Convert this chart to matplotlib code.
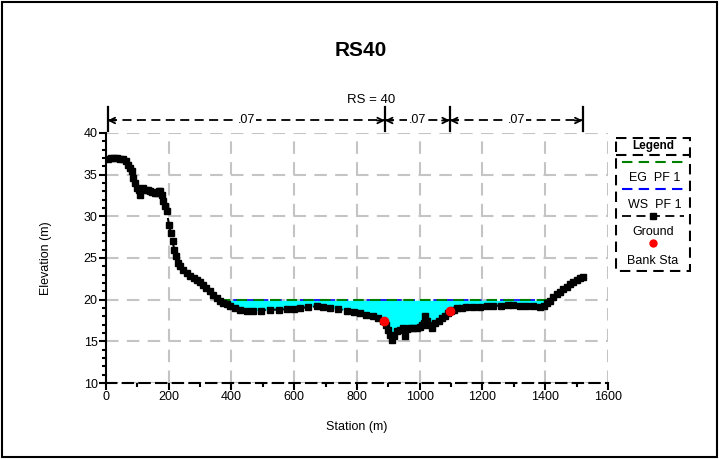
import matplotlib
matplotlib.use("Agg")
import matplotlib.pyplot as plt
import numpy as np
from matplotlib.patches import Rectangle
from matplotlib.ticker import MultipleLocator

plt.rcParams['font.family'] = ['Liberation Sans', 'DejaVu Sans']

# ---------------- data ----------------
station = [5, 15, 25, 35, 45, 55, 63, 71, 78, 82, 87, 93, 98, 104, 108, 114, 119, 126, 133, 140,
           148, 155, 162, 168, 172, 178, 183, 188, 193, 201, 207, 212, 218, 223, 230, 236, 245,
           257, 268, 280, 289, 300, 310, 320, 331, 342, 353, 363, 374, 385, 395, 410, 427, 448,
           469, 495, 523, 550, 576, 598, 618, 645, 671, 692, 714, 740, 767, 790, 809, 830, 852,
           868, 884, 893, 900, 905, 911, 918, 926, 936, 947, 953, 960, 969, 980, 990, 1000, 1006,
           1012, 1017, 1022, 1027, 1038, 1048, 1060, 1070, 1080, 1091, 1100, 1110, 1118, 1135,
           1149, 1170, 1192, 1215, 1234, 1260, 1280, 1298, 1320, 1340, 1360, 1383, 1395, 1404,
           1415, 1425, 1436, 1447, 1458, 1468, 1480, 1490, 1500, 1510, 1521]
elevation = [36.9, 37.0, 37.0, 37.0, 36.9, 36.9, 36.6, 36.2, 35.8, 35.4, 34.6, 34.0, 33.4, 33.2, 32.6,
             33.3, 33.4, 33.2, 33.1, 33.0, 32.9, 32.8, 32.8, 33.0, 33.0, 32.5, 31.8, 31.2, 30.6,
             29.0, 28.0, 27.0, 26.0, 25.2, 24.4, 24.0, 23.6, 23.2, 22.9, 22.6, 22.4, 22.1, 21.8,
             21.4, 21.0, 20.6, 20.2, 19.8, 19.6, 19.5, 19.2, 19.0, 18.8, 18.7, 18.7, 18.7, 18.8,
             18.8, 18.85, 18.9, 19.0, 19.1, 19.2, 19.1, 19.0, 18.85, 18.7, 18.5, 18.4, 18.2, 18.0,
             17.8, 17.5, 17.0, 16.4, 15.8, 15.2, 15.6, 16.2, 16.4, 16.6, 15.6, 16.5, 16.6, 16.6,
             16.6, 16.7, 17.0, 17.2, 18.0, 17.4, 17.0, 16.6, 17.2, 17.5, 17.8, 18.1, 18.4, 18.6,
             18.8, 19.0, 19.05, 19.1, 19.1, 19.15, 19.2, 19.25, 19.3, 19.35, 19.35, 19.3, 19.25,
             19.2, 19.16, 19.3, 19.56, 19.9, 20.36, 20.7, 20.96, 21.3, 21.56, 21.9, 22.1, 22.36,
             22.6, 22.76]
bank_station = [886, 1096]
bank_elev = [17.44, 18.64]
ws_elev = 19.93
eg_elev = 20.0
water_left, water_right = 362, 1420
n_bounds = [5, 889, 1096, 1519]
n_values = [".07", ".07", ".07"]
title = "RS40"
subtitle = "RS = 40"

st = np.array(station, dtype=float)
el = np.array(elevation, dtype=float)

# ---------------- figure ----------------
W, H = 719, 459
fig = plt.figure(figsize=(W / 100, H / 100), dpi=100)
fig.patch.set_facecolor('white')
fig.add_artist(Rectangle((2 / W, 2 / H), (W - 4) / W, (H - 4) / H, transform=fig.transFigure,
                         fill=False, edgecolor='black', lw=1.5))

ax = fig.add_axes([106 / W, 1 - 383 / H, (608 - 106) / W, (383 - 133) / H])
ax.set_xlim(0, 1600)
ax.set_ylim(10, 40)

# grid
ax.xaxis.set_major_locator(MultipleLocator(200))
ax.xaxis.set_minor_locator(MultipleLocator(100))
ax.yaxis.set_major_locator(MultipleLocator(5))
ax.yaxis.set_minor_locator(MultipleLocator(1))
ax.grid(True, which='major', color='#c4c4c4', linestyle=(0, (6, 4)), lw=1.5)
ax.set_axisbelow(True)

for s in ['top', 'right']:
    ax.spines[s].set_visible(False)
ax.spines['left'].set_linewidth(1.5)
ax.spines['bottom'].set_linewidth(1.5)
ax.spines['bottom'].set_linestyle((0, (5, 3)))
ax.tick_params(which='major', direction='out', length=5, width=1.5, labelsize=9, pad=1)
ax.tick_params(which='minor', direction='out', length=3, width=1.5)

# water fill
ws_mask = (st >= water_left) & (st <= water_right)
ax.fill_between(st, el, ws_elev, where=ws_mask & (el < ws_elev), interpolate=True,
                color='#00ffff', lw=0, zorder=2)
ax.plot([water_left, water_right], [ws_elev, ws_elev], color='#0000ff', ls=(0, (5, 3)), lw=1.2, zorder=3)
ax.plot([water_left, water_right], [eg_elev, eg_elev], color='#008000', ls=(0, (5, 3)), lw=1.5, zorder=3)

# ground
ax.plot(st, el, color='black', ls='--', lw=1.5, marker='s', ms=5, mfc='black', mec='black', zorder=4)
ax.plot(bank_station, bank_elev, ls='none', marker='o', ms=6, mfc='red', mec='red', zorder=5)

ax.set_xlabel("Station (m)", fontsize=9, labelpad=12.5)
ax.set_ylabel("Elevation (m)", fontsize=9, labelpad=22.5)

# title texts
fig.text(361 / W, 1 - 50 / H, title, ha='center', va='center', fontsize=15, fontweight='bold')
fig.text(371 / W, 1 - 100 / H, subtitle, ha='center', va='center', fontsize=9.5)

# n value annotations (above the axes)
y_line = 40 + (133 - 120.5) / (250 / 30)
y_bar0 = 40 + (133 - 131) / (250 / 30)
y_bar1 = 40 + (133 - 107) / (250 / 30)
for b in n_bounds:
    ax.plot([b, b], [y_bar0, y_bar1], color='black', lw=1.6, clip_on=False)
for i in range(len(n_values)):
    a, b = n_bounds[i], n_bounds[i + 1]
    ax.plot([a, b], [y_line, y_line], color='black', lw=1.3, ls=(0, (5, 3)), clip_on=False)
    ax.annotate('', xy=(a, y_line), xytext=(a + 25, y_line),
                arrowprops=dict(arrowstyle='->', lw=1.3, color='black', shrinkA=0, shrinkB=0),
                annotation_clip=False)
    ax.annotate('', xy=(b, y_line), xytext=(b - 25, y_line),
                arrowprops=dict(arrowstyle='->', lw=1.3, color='black', shrinkA=0, shrinkB=0),
                annotation_clip=False)
    ax.text((a + b) / 2, y_line, n_values[i], ha='center', va='center', fontsize=9,
            bbox=dict(facecolor='white', edgecolor='none', pad=1.0), clip_on=False)

# legend (manual, pixel coords)
lx0, lx1, ly0, ly1 = 615, 691, 137, 272
lax = fig.add_axes([lx0 / W, 1 - ly1 / H, (lx1 - lx0) / W, (ly1 - ly0) / H])
lax.set_xlim(lx0, lx1)
lax.set_ylim(ly1, ly0)
lax.axis('off')
lax.add_patch(Rectangle((lx0 + 1, ly0 + 1), lx1 - lx0 - 2, ly1 - ly0 - 2, fill=False,
                        edgecolor='black', lw=1.5, ls=(0, (5, 3))))
cx = (lx0 + lx1) / 2
lax.text(cx, 146, "Legend", ha='center', va='center', fontsize=8.5, fontweight='bold')
lax.plot([lx0 + 1, lx1 - 1], [155.5, 155.5], color='black', lw=1.5, ls=(0, (5, 3)))
lax.plot([lx0 + 7, lx1 - 7], [162.3, 162.3], color='#008000', lw=1.5, ls=(0, (5, 3)))
lax.text(cx + 2, 177.7, "EG  PF 1", ha='center', va='center', fontsize=9)
lax.plot([lx0 + 7, lx1 - 7], [189.3, 189.3], color='#0000ff', lw=1.5, ls=(0, (5, 3)))
lax.text(cx + 2, 205, "WS  PF 1", ha='center', va='center', fontsize=9)
lax.plot([lx0 + 7, lx1 - 7], [215.7, 215.7], color='black', lw=1.3, ls=(0, (5, 3)))
lax.plot([cx], [215.7], marker='s', ms=4, color='black')
lax.text(cx, 232.3, "Ground", ha='center', va='center', fontsize=9)
lax.plot([cx], [243.3], marker='o', ms=5, color='red', ls='none')
lax.text(cx, 261, "Bank Sta", ha='center', va='center', fontsize=9)

fig.savefig("out.png", dpi=100, facecolor='white')
